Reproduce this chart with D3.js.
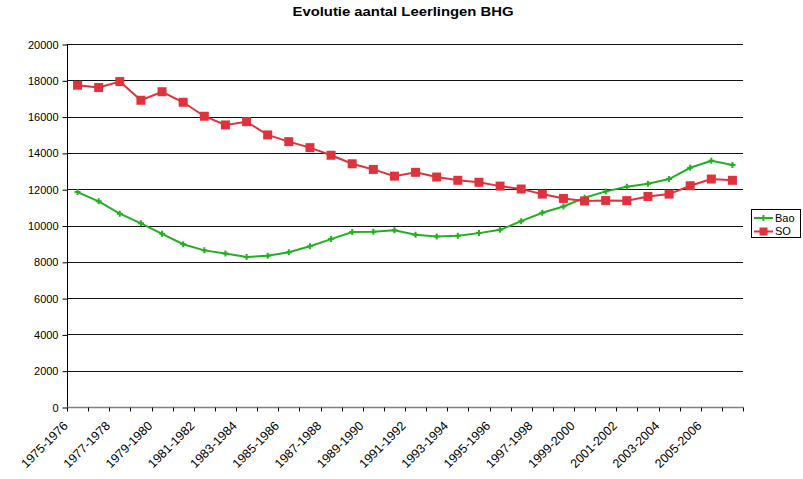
<!DOCTYPE html>
<html>
<head>
<meta charset="utf-8">
<script src="https://cdn.jsdelivr.net/npm/d3@7"></script>
<style>
html,body{margin:0;padding:0;background:#fff;}
svg{display:block;font-family:"Liberation Sans",Arial,sans-serif;}
</style>
</head>
<body>
<svg id="chart" width="803" height="479"></svg>
<script>
const title = "Evolutie aantal Leerlingen BHG";
const categories = ["1975-1976","1976-1977","1977-1978","1978-1979","1979-1980","1980-1981","1981-1982","1982-1983","1983-1984","1984-1985","1985-1986","1986-1987","1987-1988","1988-1989","1989-1990","1990-1991","1991-1992","1992-1993","1993-1994","1994-1995","1995-1996","1996-1997","1997-1998","1998-1999","1999-2000","2000-2001","2001-2002","2002-2003","2003-2004","2004-2005","2005-2006","2006-2007"];
const baoValues = [11840,11330,10650,10120,9540,8970,8630,8460,8270,8330,8530,8860,9250,9640,9650,9740,9490,9400,9430,9580,9760,10240,10700,11050,11530,11880,12130,12300,12560,13180,13570,13330];
const soValues = [17730,17600,17930,16900,17370,16790,16020,15540,15720,14990,14620,14290,13870,13400,13090,12720,12930,12670,12490,12380,12170,12010,11730,11490,11350,11380,11370,11600,11730,12190,12560,12490];
const xTickLabels = ["1975-1976","1977-1978","1979-1980","1981-1982","1983-1984","1985-1986","1987-1988","1989-1990","1991-1992","1993-1994","1995-1996","1997-1998","1999-2000","2001-2002","2003-2004","2005-2006"];
const yTicks = [0,2000,4000,6000,8000,10000,12000,14000,16000,18000,20000];
const seriesNames = ["Bao","SO"];
const seriesColors = ["#22b022","#e0323c"];

const svg = d3.select("#chart");
const L = 67, R = 743, T = 44, B = 407;

const x = d3.scaleBand().domain(categories).range([L, R]).paddingInner(0).paddingOuter(0);
const y = d3.scaleLinear().domain([0, 20000]).range([B, T]);
const cx = d => x(d) + x.bandwidth() / 2;

// title
svg.append("text").attr("x", 403).attr("y", 16).attr("text-anchor", "middle")
  .attr("font-size", 12.5).attr("font-weight", "bold")
  .attr("textLength", 221).attr("lengthAdjust", "spacingAndGlyphs").text(title);

// gridlines
svg.append("g").selectAll("line").data(yTicks.filter(v => v > 0)).join("line")
  .attr("x1", L).attr("x2", R).attr("y1", d => Math.round(y(d)) + 0.5).attr("y2", d => Math.round(y(d)) + 0.5)
  .attr("stroke", "#111").attr("stroke-width", 1);

// y axis
const yAxis = d3.axisLeft(y).tickValues(yTicks).tickSize(5).tickPadding(4).tickFormat(d3.format("d"));
const gy = svg.append("g").attr("transform", `translate(${L + 0.5},0.5)`).call(yAxis);
gy.select(".domain").attr("stroke", "#000").attr("d", `M0,${T}V${B}`);
gy.selectAll(".tick line").attr("stroke", "#000");
gy.selectAll(".tick text").attr("font-size", 11).attr("fill", "#000").attr("font-family", "Liberation Sans, Arial, sans-serif");

// x axis: ticks at category boundaries
const gx = svg.append("g").attr("transform", `translate(0,${B + 0.5})`);
gx.append("line").attr("x1", L).attr("x2", R + 0.5).attr("y1", 0).attr("y2", 0).attr("stroke", "#808080").attr("stroke-width", 1.5);
const boundaries = categories.map(c => x(c)).concat([R]);
gx.selectAll("line.tk").data(boundaries).join("line").attr("class", "tk")
  .attr("x1", d => Math.round(d) + 0.5).attr("x2", d => Math.round(d) + 0.5).attr("y1", 0).attr("y2", 4)
  .attr("stroke", "#000");
gx.selectAll("text").data(xTickLabels).join("text")
  .attr("transform", d => `translate(${cx(d) - 9},${19}) rotate(-45)`)
  .attr("text-anchor", "end")
  .attr("font-size", 12.5).attr("fill", "#000").text(d => d);

// lines
const series = [baoValues, soValues];
const line = d3.line().x((d, i) => cx(categories[i])).y(d => y(d));
series.forEach((vals, si) => {
  svg.append("path").datum(vals).attr("d", line).attr("fill", "none")
    .attr("stroke", seriesColors[si]).attr("stroke-width", 2);
});
// markers
svg.append("g").selectAll("path").data(baoValues).join("path")
  .attr("d", d3.symbol().type(d3.symbolCross).size(20))
  .attr("transform", (d, i) => `translate(${cx(categories[i])},${y(d)})`)
  .attr("fill", seriesColors[0]);
svg.append("g").selectAll("rect").data(soValues).join("rect")
  .attr("x", (d, i) => cx(categories[i]) - 4.5).attr("y", d => y(d) - 4.5)
  .attr("width", 9).attr("height", 9).attr("fill", seriesColors[1]);

// legend
const lg = svg.append("g");
lg.append("rect").attr("x", 751.5).attr("y", 209.5).attr("width", 49).attr("height", 28)
  .attr("fill", "#fff").attr("stroke", "#000");
seriesNames.forEach((n, i) => {
  const yy = 218 + i * 13.5;
  lg.append("line").attr("x1", 754).attr("x2", 773).attr("y1", yy).attr("y2", yy)
    .attr("stroke", seriesColors[i]).attr("stroke-width", 2);
  if (i === 0) {
    lg.append("path").attr("d", d3.symbol().type(d3.symbolCross).size(20)).attr("transform", `translate(763.5,${yy})`).attr("fill", seriesColors[0]);
  } else {
    lg.append("rect").attr("x", 759.5).attr("y", yy - 4).attr("width", 8).attr("height", 8).attr("fill", seriesColors[1]);
  }
  lg.append("text").attr("x", 775).attr("y", yy).attr("dy", "0.35em").attr("font-size", 11).text(n);
});
</script>
</body>
</html>
